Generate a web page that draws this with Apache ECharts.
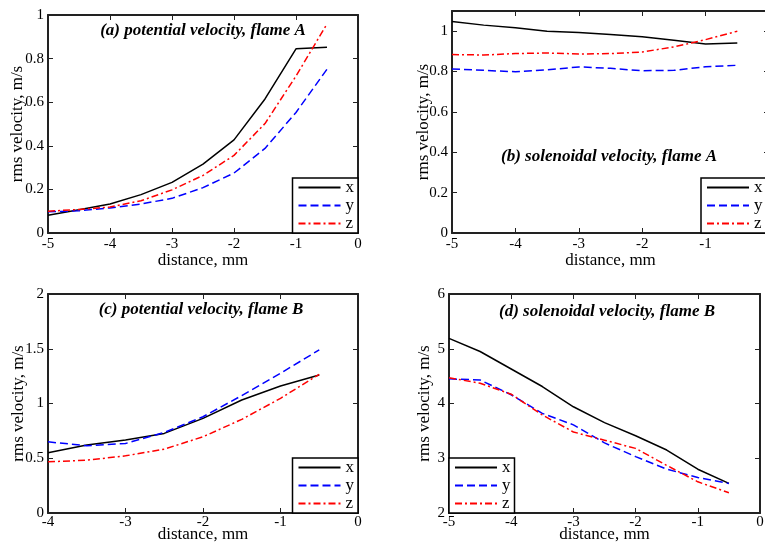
<!DOCTYPE html>
<html>
<head>
<meta charset="utf-8">
<script src="https://cdn.jsdelivr.net/npm/echarts@6/dist/echarts.min.js"></script>
<style>
  html, body { margin: 0; padding: 0; background: #fff; }
  #chart { width: 765px; height: 544px; }
</style>
</head>
<body>
<div id="chart"></div>
<script>
// distance from flame front, mm
const distA = [-5, -4.5, -4, -3.5, -3, -2.5, -2, -1.5, -1, -0.5];
const distC = [-4, -3.5, -3, -2.5, -2, -1.5, -1, -0.5];

// (a) potential velocity, flame A
const aX = [0.081, 0.107, 0.133, 0.176, 0.232, 0.316, 0.427, 0.615, 0.845, 0.852];
const aY = [0.097, 0.102, 0.115, 0.133, 0.159, 0.208, 0.275, 0.388, 0.553, 0.751];
const aZ = [0.100, 0.108, 0.119, 0.148, 0.198, 0.264, 0.356, 0.502, 0.720, 0.959];

// (b) solenoidal velocity, flame A
const bX = [1.048, 1.030, 1.017, 1.000, 0.993, 0.983, 0.972, 0.955, 0.937, 0.942];
const bY = [0.813, 0.806, 0.799, 0.808, 0.823, 0.816, 0.804, 0.806, 0.824, 0.831];
const bZ = [0.884, 0.882, 0.889, 0.892, 0.887, 0.889, 0.897, 0.922, 0.958, 1.000];

// (c) potential velocity, flame B
const cX = [0.55, 0.62, 0.666, 0.727, 0.864, 1.032, 1.16, 1.26];
const cY = [0.65, 0.614, 0.635, 0.736, 0.879, 1.072, 1.276, 1.49];
const cZ = [0.467, 0.482, 0.522, 0.583, 0.696, 0.855, 1.047, 1.267];

// (d) solenoidal velocity, flame B
const dX = [5.19, 4.95, 4.63, 4.31, 3.94, 3.65, 3.41, 3.15, 2.80, 2.54];
const dY = [4.45, 4.43, 4.16, 3.82, 3.61, 3.28, 3.03, 2.80, 2.65, 2.54];
const dZ = [4.47, 4.37, 4.17, 3.79, 3.48, 3.33, 3.18, 2.87, 2.57, 2.37];

const panelTitles = [
  '(a) potential velocity, flame A',
  '(b) solenoidal velocity, flame A',
  '(c) potential velocity, flame B',
  '(d) solenoidal velocity, flame B'
];

const FONT = 'Liberation Serif';
const FRAME = '#222';

const panels = [
  { grid: { left: 48, top: 15, width: 310, height: 218 }, xMin: -5, xMax: 0, yMin: 0, yMax: 1, yStep: 0.2,
    dist: distA, vals: [aX, aY, aZ], yGap: 22, xGap: 19, xMargin: 4,
    legend: { right: 407, bottom: 311 }, title: [203, 31] },
  { grid: { left: 452, top: 11, width: 317, height: 222 }, xMin: -5, xMax: 0, yMin: 0, yMax: 1.1, yStep: 0.2,
    dist: distA, vals: [bX, bY, bZ], yGap: 20, xGap: 19, xMargin: 4,
    legend: { left: 701, bottom: 311 }, title: [609, 157] },
  { grid: { left: 48, top: 294, width: 310, height: 219 }, xMin: -4, xMax: 0, yMin: 0, yMax: 2, yStep: 0.5,
    dist: distC, vals: [cX, cY, cZ], yGap: 21, xGap: 13, xMargin: 2,
    legend: { right: 407, bottom: 31 }, title: [201, 310] },
  { grid: { left: 449, top: 294, width: 311, height: 219 }, xMin: -5, xMax: 0, yMin: 2, yMax: 6, yStep: 1,
    dist: distA, vals: [dX, dY, dZ], yGap: 16, xGap: 13, xMargin: 2,
    legend: { left: 449, bottom: 31 }, title: [607, 312] }
];

const lineStyles = [
  { color: '#000000', width: 1.5, type: 'solid' },
  { color: '#0000ff', width: 1.5, type: [8, 4] },
  { color: '#ff0000', width: 1.5, type: [7, 3, 2, 3] }
];
const names = ['x', 'y', 'z'];

const grid = [], xAxis = [], yAxis = [], series = [], legend = [], graphic = [];

panels.forEach((p, i) => {
  grid.push(Object.assign({ containLabel: false, outerBoundsMode: 'none' }, p.grid));
  const lineCfg = { show: true, onZero: false, lineStyle: { color: FRAME, width: 2 } };
  const tickCfg = { show: true, inside: true, length: 5, lineStyle: { color: FRAME, width: 1 } };
  const labelFont = { fontFamily: FONT, fontSize: 15, color: '#000' };
  // main bottom / left axes
  xAxis.push({
    gridIndex: i, type: 'value', min: p.xMin, max: p.xMax, interval: 1, position: 'bottom',
    axisLine: lineCfg, axisTick: tickCfg, splitLine: { show: false },
    axisLabel: Object.assign({ margin: p.xMargin }, labelFont),
    name: 'distance, mm', nameLocation: 'middle', nameGap: p.xGap, nameMoveOverlap: false,
    nameTextStyle: { fontFamily: FONT, fontSize: 17, color: '#000' }
  });
  yAxis.push({
    gridIndex: i, type: 'value', min: p.yMin, max: p.yMax, interval: p.yStep, position: 'left',
    axisLine: lineCfg, axisTick: tickCfg, splitLine: { show: false },
    axisLabel: Object.assign({ margin: 4, showMaxLabel: p.yMax !== 1.1 }, labelFont),
    name: 'rms velocity, m/s', nameLocation: 'middle', nameGap: p.yGap, nameMoveOverlap: false,
    nameTextStyle: { fontFamily: FONT, fontSize: 17, color: '#000' }
  });
  // mirrored top / right axes carrying the inward ticks of the frame
  xAxis.push({
    gridIndex: i, type: 'value', min: p.xMin, max: p.xMax, interval: 1, position: 'top',
    axisLine: lineCfg, axisTick: tickCfg, axisLabel: { show: false }, splitLine: { show: false }
  });
  yAxis.push({
    gridIndex: i, type: 'value', min: p.yMin, max: p.yMax, interval: p.yStep, position: 'right',
    axisLine: lineCfg, axisTick: tickCfg, axisLabel: { show: false }, splitLine: { show: false }
  });

  p.vals.forEach((v, k) => {
    series.push({
      name: names[k], type: 'line', xAxisIndex: 2 * i, yAxisIndex: 2 * i,
      data: p.dist.map((d, j) => [d, v[j]]),
      symbol: 'none', lineStyle: lineStyles[k], itemStyle: { color: lineStyles[k].color },
      silent: true, animation: false, z: 3
    });
  });

  legend.push(Object.assign({
    data: names, orient: 'vertical', itemWidth: 42, itemHeight: 10, itemGap: 1,
    padding: [1, 4, 1, 5], borderColor: '#000', borderWidth: 1.5, backgroundColor: '#fff',
    selectedMode: false,
    itemStyle: { opacity: 0 },
    textStyle: { fontFamily: FONT, fontSize: 17, color: '#000', lineHeight: 12, padding: [0, 0, 0, 0] }
  }, p.legend));

  graphic.push({
    type: 'text', x: p.title[0], y: p.title[1], z: 10,
    style: {
      text: panelTitles[i], textAlign: 'center', textVerticalAlign: 'middle',
      font: 'italic bold 17px "Liberation Serif"', fill: '#000'
    }
  });
});

const chart = echarts.init(document.getElementById('chart'), null, { renderer: 'canvas' });
chart.setOption({
  animation: false,
  backgroundColor: '#fff',
  grid, xAxis, yAxis, series, legend, graphic
});
</script>
</body>
</html>
